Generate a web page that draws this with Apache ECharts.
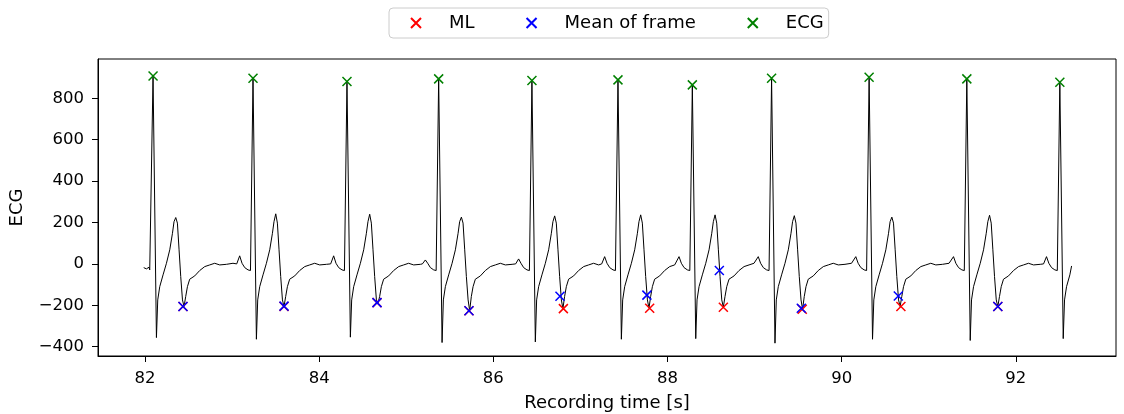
<!DOCTYPE html>
<html>
<head>
<meta charset="utf-8">
<script src="https://cdn.jsdelivr.net/npm/echarts@6/dist/echarts.min.js"></script>
<style>
html, body { margin: 0; padding: 0; background: #fff; }
#chart { width: 1124px; height: 414px; }
</style>
</head>
<body>
<div id="chart"></div>
<script>
// R peaks (also the green "ECG" markers)
var rTimes = [82.092, 83.240, 84.319, 85.372, 86.443, 87.431, 88.285, 89.195, 90.315, 91.437, 92.505];
var rValues = [908, 897, 881, 894, 886, 889, 865, 897, 902, 894, 878];
// per beat: S trough, T peak, trough after T, P wave before the beat (beats 2..11)
var sValues = [-356, -364, -354, -380, -377, -364, -361, -383, -364, -370, -361];
var tValues = [224, 242, 240, 226, 232, 237, 237, 233, 226, 235];
var troughValues = [-206, -206, -190, -226, -216, -214, -209, -219, -206, -206];
var pValues = [39, 39, 19, 24, 35, 35, 35, 35, 35, 35];

// shape of one complex: seconds from R, value
var beatOffsets = [-0.038, -0.029, 0, 0.039, 0.054, 0.077, 0.115, 0.154, 0.192, 0.223, 0.241, 0.261, 0.280, 0.299, 0.318, 0.338, 0.356, 0.375, 0.395, 0.421, 0.479, 0.536, 0.594, 0.651, 0.708, 0.766, 0.843, 0.918];
var beatShape = [-29, -32, 908, -356, -174, -110, -53, 3, 68, 148, 204, 224, 197, 68, -61, -174, -206, -158, -110, -74, -58, -32, -13, -5, 3, -5, -2, 3];
var R_AT = 2, S_AT = 3, T_AT = 11, U_AT = 16;
// P wave before each R: seconds before R, value
var pOffsets = [-0.187, -0.153, -0.126, -0.095, -0.057];
var pShape = [0, 39, 3, -18, -29];
// start and end of the trace
var leadIn = [[81.985, -18], [82.016, -24], [82.046, -16]];
var traceEnd = [92.64, -10];

// markers
var mlTimes = [82.436, 83.596, 84.664, 85.720, 86.804, 87.795, 88.641, 89.547, 90.680, 91.793];
var mlValues = [-206, -206, -187, -226, -216, -214, -209, -219, -206, -206];
var meanTimes = [82.436, 83.596, 84.664, 85.720, 86.765, 87.763, 88.595, 89.536, 90.650, 91.793];
var meanValues = [-206, -204, -187, -226, -156, -151, -32, -214, -155, -206];

var xTicks = [82, 84, 86, 88, 90, 92];
var yTicks = [-400, -200, 0, 200, 400, 600, 800];

// build the trace
var ecgLine = leadIn.slice();
for (var i = 0; i < rTimes.length; i++) {
  var r = rTimes[i];
  var next = i + 1 < rTimes.length ? rTimes[i + 1] : null;
  if (i > 0) {
    for (var j = 0; j < pOffsets.length; j++) {
      ecgLine.push([r + pOffsets[j], j == 1 ? pValues[i - 1] : pShape[j]]);
    }
  }
  for (var k = 0; k < beatOffsets.length; k++) {
    var t = r + beatOffsets[k];
    if (next !== null && k > R_AT && t >= next - 0.19) break;
    if (next === null && t >= traceEnd[0]) break;
    var v = beatShape[k];
    if (k == R_AT) v = rValues[i];
    if (k == S_AT) v = sValues[i];
    if (k == T_AT && i < tValues.length) v = tValues[i];
    if (k == U_AT && i < troughValues.length) v = troughValues[i];
    ecgLine.push([t, v]);
  }
}
ecgLine.push(traceEnd);

function pairs(xs, ys) {
  return xs.map(function (x, n) { return [x, ys[n]]; });
}

var font = 'DejaVu Sans';
var cross = 'path://M0,0L10,10M10,0L0,10';

function markerSeries(name, colour, data) {
  return {
    name: name,
    type: 'scatter',
    data: data,
    symbol: cross,
    symbolSize: 9,
    itemStyle: { color: 'rgba(0,0,0,0)', borderColor: colour, borderWidth: 1.5, opacity: 1 },
    z: 3
  };
}

function minus(v) {
  return String(v).replace('-', '\u2212');
}

var chart = echarts.init(document.getElementById('chart'));
chart.setOption({
  animation: false,
  backgroundColor: '#fff',
  textStyle: { fontFamily: font },
  legend: {
    data: ['ML', 'Mean of frame', 'ECG'],
    left: 389,
    top: 8,
    itemWidth: 10,
    itemHeight: 10,
    itemGap: 51,
    padding: [6, 5, 6, 21],
    borderColor: '#cccccc',
    borderWidth: 1,
    borderRadius: 4,
    textStyle: { fontSize: 18, fontFamily: font, color: '#000', padding: [0, 0, 0, 23] }
  },
  grid: {
    left: 98, right: 8, top: 59, bottom: 58,
    containLabel: false,
    outerBoundsMode: 'none',
    show: true, borderColor: '#000', borderWidth: 1
  },
  xAxis: {
    type: 'value',
    min: 81.46,
    max: 93.15,
    name: 'Recording time [s]',
    nameLocation: 'middle',
    nameGap: 38,
    nameTextStyle: { fontSize: 18, color: '#000', fontFamily: font },
    axisLine: { onZero: false, lineStyle: { color: '#000' } },
    axisTick: { length: 6, lineStyle: { color: '#000' }, customValues: xTicks },
    axisLabel: { fontSize: 16.5, color: '#000', margin: 14, fontFamily: font, customValues: xTicks },
    splitLine: { show: false }
  },
  yAxis: {
    type: 'value',
    min: -445,
    max: 990,
    name: 'ECG',
    nameLocation: 'middle',
    nameGap: 72,
    nameRotate: 90,
    nameTextStyle: { fontSize: 18, color: '#000', fontFamily: font },
    axisLine: { show: true, onZero: false, lineStyle: { color: '#000' } },
    axisTick: { show: true, length: 6, lineStyle: { color: '#000' }, customValues: yTicks },
    axisLabel: { fontSize: 16.5, color: '#000', margin: 14, fontFamily: font, customValues: yTicks, formatter: minus },
    splitLine: { show: false }
  },
  series: [
    {
      name: 'trace',
      type: 'line',
      data: ecgLine,
      symbol: 'none',
      lineStyle: { color: '#000', width: 1 },
      silent: true,
      z: 1
    },
    markerSeries('ML', '#ff0000', pairs(mlTimes, mlValues)),
    markerSeries('Mean of frame', '#0000ff', pairs(meanTimes, meanValues)),
    markerSeries('ECG', '#008000', pairs(rTimes, rValues))
  ]
});
</script>
</body>
</html>
